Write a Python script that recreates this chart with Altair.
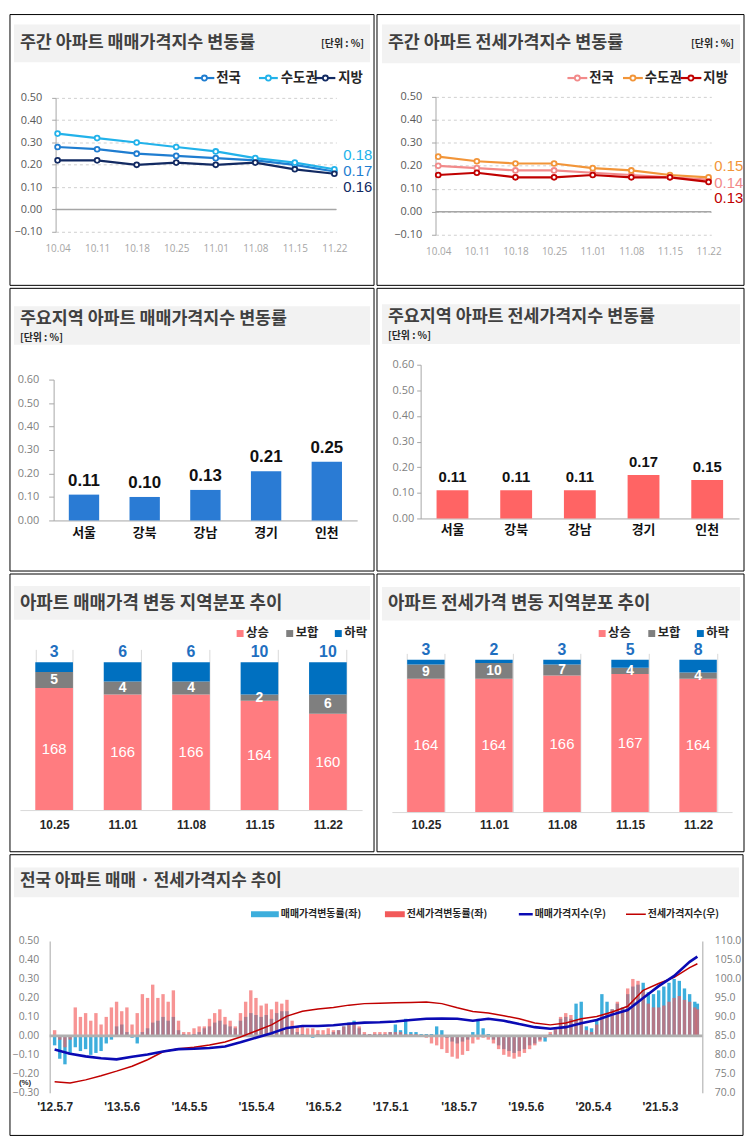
import altair as alt
import pandas as pd

KR = "Noto Sans CJK KR"
NUM = "Liberation Sans, Arial, sans-serif"
AXF = "Open Sans, Noto Sans, sans-serif"
LAT = "Liberation Sans, Arial, sans-serif"

# ---------------- data: weekly change rates ----------------
week_labels = ["10.04", "10.11", "10.18", "10.25", "11.01", "11.08", "11.15", "11.22"]
region_names = ["전국", "수도권", "지방"]
sale_nation = [0.28, 0.27, 0.25, 0.24, 0.23, 0.22, 0.20, 0.17]
sale_capital = [0.34, 0.32, 0.30, 0.28, 0.26, 0.23, 0.21, 0.18]
sale_local = [0.22, 0.22, 0.20, 0.21, 0.20, 0.21, 0.18, 0.16]
jeonse_nation = [0.20, 0.19, 0.18, 0.18, 0.17, 0.16, 0.15, 0.14]
jeonse_capital = [0.24, 0.22, 0.21, 0.21, 0.19, 0.18, 0.16, 0.15]
jeonse_local = [0.16, 0.17, 0.15, 0.15, 0.16, 0.15, 0.15, 0.13]

# ---------------- data: main areas ----------------
areas = ["서울", "강북", "강남", "경기", "인천"]
sale_area = [0.11, 0.10, 0.13, 0.21, 0.25]
jeonse_area = [0.11, 0.11, 0.11, 0.17, 0.15]

# ---------------- data: regional distribution ----------------
dist_weeks = ["10.25", "11.01", "11.08", "11.15", "11.22"]
dist_cats = ["상승", "보합", "하락"]
sale_up = [168, 166, 166, 164, 160]
sale_flat = [5, 4, 4, 2, 6]
sale_down = [3, 6, 6, 10, 10]
jeonse_up = [164, 164, 166, 167, 164]
jeonse_flat = [9, 10, 7, 4, 4]
jeonse_down = [3, 2, 3, 5, 8]

# ---------------- data: long-term trend (4-week samples) ----------------
sale_rate_12_14 = [-0.05, -0.12, -0.15, -0.10, -0.06, -0.08, -0.07, -0.10, -0.09, -0.08,
                   -0.04, -0.02, 0.05, 0.06, 0.02, -0.01, -0.04, 0.02, 0.04, 0.07,
                   0.08, 0.10, 0.08, 0.10, 0.03, 0.01, 0.00, 0.01, 0.02, 0.04]
sale_rate_14_17 = [0.05, 0.07, 0.08, 0.06, 0.05, 0.04, 0.08, 0.10, 0.12, 0.11,
                   0.10, 0.11, 0.09, 0.12, 0.13, 0.13, 0.05, 0.02, 0.01, 0.00,
                   -0.01, 0.01, 0.00, 0.01, 0.02, 0.03, 0.05, 0.07, 0.08, 0.04,
                   0.01, 0.01, 0.01]
sale_rate_17_19 = [0.01, 0.01, 0.02, 0.06, 0.03, 0.09, 0.02, 0.02, 0.01, 0.01,
                   0.01, 0.05, 0.03, -0.01, -0.03, -0.04, -0.03, -0.02, 0.02, 0.09,
                   0.04, 0.01, -0.02, -0.05, -0.07, -0.08, -0.09, -0.08, -0.07, -0.05,
                   -0.04, -0.02, -0.03, 0.01, 0.03]
sale_rate_19_21 = [0.09, 0.10, 0.09, 0.17, 0.18, 0.05, 0.04, 0.08, 0.22, 0.18,
                   0.14, 0.17, 0.15, 0.22, 0.26, 0.27, 0.28, 0.23, 0.22, 0.24,
                   0.26, 0.28, 0.30, 0.29, 0.25, 0.22, 0.18, 0.17]
jeonse_rate_12_14 = [0.03, -0.02, -0.06, -0.02, 0.15, 0.10, 0.12, 0.08, 0.12, 0.06,
                     0.10, 0.15, 0.18, 0.13, 0.15, 0.06, 0.12, 0.22, 0.20, 0.27,
                     0.20, 0.22, 0.18, 0.24, 0.08, 0.02, 0.02, 0.04, 0.05, 0.05]
jeonse_rate_14_17 = [0.09, 0.12, 0.14, 0.10, 0.08, 0.05, 0.12, 0.18, 0.24, 0.20,
                     0.16, 0.17, 0.14, 0.18, 0.17, 0.19, 0.08, 0.05, 0.05, 0.04,
                     0.04, 0.03, 0.03, 0.04, 0.03, 0.03, 0.05, 0.06, 0.07, 0.05,
                     0.02, 0.01, 0.02]
jeonse_rate_17_19 = [0.02, 0.02, 0.02, 0.02, 0.02, 0.01, 0.01, 0.01, 0.00, -0.01,
                     -0.04, -0.05, -0.07, -0.09, -0.11, -0.12, -0.10, -0.08, -0.04, -0.02,
                     -0.01, -0.02, -0.04, -0.07, -0.10, -0.11, -0.12, -0.11, -0.09, -0.07,
                     -0.05, -0.03, -0.01, 0.02, 0.04]
jeonse_rate_19_21 = [0.10, 0.12, 0.11, 0.08, 0.09, 0.03, 0.02, 0.06, 0.11, 0.12,
                     0.14, 0.18, 0.14, 0.25, 0.30, 0.29, 0.24, 0.17, 0.15, 0.15,
                     0.16, 0.18, 0.20, 0.21, 0.19, 0.18, 0.15, 0.14]
sale_index = [81.4, 80.3, 79.6, 79.1, 78.8, 79.5, 80.1, 80.9, 81.5, 81.6,
              81.8, 82.2, 83.3, 84.5, 85.7, 87.1, 87.6, 87.6, 87.8, 88.2,
              88.5, 88.6, 88.8, 89.2, 89.5, 89.6, 89.5, 89.0, 89.5, 89.0,
              88.1, 87.3, 86.9, 87.3, 88.3, 89.2, 90.6, 91.8, 95.0, 98.1,
              100.8, 104.5, 105.9]
jeonse_index = [72.9, 72.6, 73.4, 74.5, 75.7, 77.0, 78.7, 80.8, 81.6, 82.0,
                82.6, 83.4, 84.7, 86.3, 87.9, 90.2, 91.5, 92.1, 92.5, 93.1,
                93.5, 93.6, 93.7, 93.8, 93.9, 93.5, 92.4, 91.4, 91.0, 90.3,
                89.5, 88.4, 87.9, 88.4, 89.5, 90.1, 91.3, 92.8, 97.0, 98.8,
                100.4, 103.0, 104.0]
tick_dates = [(2012, 5, 7), (2013, 5, 6), (2014, 5, 5), (2015, 5, 4), (2016, 5, 2),
              (2017, 5, 1), (2018, 5, 7), (2019, 5, 6), (2020, 5, 4), (2021, 5, 3)]

ONE = pd.DataFrame({"k": [0]})


class Cell:
    def __init__(self, px, py, cw, ch):
        self.px, self.py, self.cw, self.ch = px, py, cw, ch

    def X(self, x):
        return alt.value(x - self.px)

    def Y(self, y):
        return alt.value(y - self.py)

    def rect(self, x1, y1, x2, y2, **kw):
        return alt.Chart(ONE).mark_rect(**kw).encode(
            x=self.X(x1), y=self.Y(y1), x2=self.X(x2), y2=self.Y(y2))

    def frame(self, band):
        return [self.rect(0, 0, self.cw, self.ch, fill="transparent", stroke="black", strokeWidth=1),
                self.rect(*band, fill="#F2F2F2")]

    def text(self, t, x, y, size, color="#262626", weight="normal", align="left", font=KR):
        return alt.Chart(ONE).mark_text(
            text=t, fontSize=size, color=color, fontWeight=weight, align=align,
            baseline="middle", font=font).encode(x=self.X(x), y=self.Y(y))

    def rule(self, x1, x2, y, color, sw):
        return alt.Chart(ONE).mark_rule(color=color, strokeWidth=sw).encode(
            x=self.X(x1), x2=self.X(x2), y=self.Y(y))

    def dot(self, x, y, color):
        return alt.Chart(ONE).mark_point(
            shape="circle", filled=True, fill="white", stroke=color, strokeWidth=1.8,
            size=26, opacity=1).encode(x=self.X(x), y=self.Y(y))

    def square(self, x, y, s, color):
        return self.rect(x - s / 2, y - s / 2, x + s / 2, y + s / 2, fill=color)


# ---------------- weekly line panels ----------------
def weekly_panel(cell, W, H, band, title, vals, colors, pad, legend, legend_y, label_x, label_dy, title_y):
    df = pd.DataFrame({
        "week": week_labels * 3,
        "region": [r for r in region_names for _ in week_labels],
        "v": vals[0] + vals[1] + vals[2],
    })
    sc = alt.Scale(domain=region_names, range=colors)
    xs = alt.X("week:N", sort=week_labels, scale=alt.Scale(type="point", padding=pad),
               axis=alt.Axis(title=None, labelAngle=0, domain=False, ticks=False, grid=False,
                             labelColor="#A6A6A6", labelFontSize=10, labelFont=AXF, labelPadding=12))
    ysc = alt.Scale(domain=[-0.1, 0.5], nice=False)
    yax = alt.Axis(title=None, values=[-0.1, 0.0, 0.1, 0.2, 0.3, 0.4, 0.5], format=".2f",
                   grid=True, gridDash=[3, 3], gridColor="#CFCFCF", domainColor="#A6A6A6",
                   tickColor="#A6A6A6", tickSize=4, labelColor="#595959", labelFontSize=11,
                   labelFont=AXF, labelPadding=10)
    ys = alt.Y("v:Q", scale=ysc, axis=yax)
    zero = alt.Chart(pd.DataFrame({"v": [0.0]})).mark_rule(color="#A6A6A6", strokeWidth=1.5).encode(y=ys)
    lines = alt.Chart(df).mark_line(strokeWidth=2.2).encode(
        x=xs, y=ys, color=alt.Color("region:N", scale=sc, legend=None))
    pts = alt.Chart(df).mark_point(filled=True, fill="white", size=24, strokeWidth=1.8, opacity=1).encode(
        x=xs, y=ys, stroke=alt.Stroke("region:N", scale=sc, legend=None))
    labels = []
    for i, r in enumerate(region_names):
        sub = df[(df.region == r) & (df.week == week_labels[-1])]
        labels.append(alt.Chart(sub).mark_text(
            align="left", baseline="middle", dy=label_dy[i], fontSize=15, font=NUM,
            color=colors[i]).encode(x=cell.X(label_x), y=ys, text=alt.Text("v:Q", format=".2f")))
    deco = cell.frame(band) + [
        cell.text(title, band[0] + 6, title_y, 17.5, color="#404040", weight="bold"),
        cell.text("[단위 : %]", band[2] - 6, title_y + 1, 10, color="#262626", weight="bold", align="right"),
    ]
    leg = []
    for i, (lx1, lx2, tx) in enumerate(legend):
        leg.append(cell.rule(lx1, lx2, legend_y, colors[i], 2.2))
        leg.append(cell.dot((lx1 + lx2) / 2, legend_y, colors[i]))
        leg.append(cell.text(region_names[i], tx, legend_y, 13.5, color="#262626", weight="bold"))
    return alt.layer(*deco, *leg, zero, lines, pts, *labels).properties(width=W, height=H)


A = weekly_panel(Cell(46, 84, 367, 273), 283, 135, (4, 10, 363, 48),
                 "주간 아파트 매매가격지수 변동률", [sale_nation, sale_capital, sale_local],
                 ["#1F7DD0", "#22B2EA", "#122A62"], 0.05,
                 [(186, 206, 208), (251, 270, 273), (308, 328, 331)], 64, 336, [0, -14, 13], 29)
B = weekly_panel(Cell(59, 83, 370, 273), 278, 139, (5, 10, 366, 49),
                 "주간 아파트 전세가격지수 변동률", [jeonse_nation, jeonse_capital, jeonse_local],
                 ["#F28A8A", "#F29539", "#C00000"], 0.07,
                 [(192, 212, 214), (248, 268, 270), (306, 327, 329)], 64, 340, [3, -11, 16], 29)


# ---------------- main-area bar panels ----------------
def area_panel(cell, W, H, band, title, vals, color, title_y, unit_y, lbl_size, tick, lpad, cpad):
    df = pd.DataFrame({"area": areas, "v": vals})
    xs = alt.X("area:N", sort=areas, scale=alt.Scale(paddingInner=0.5, paddingOuter=0.25),
               axis=alt.Axis(title=None, labelAngle=0, ticks=False, domainColor="#A6A6A6",
                             labelFont=KR, labelFontSize=13, labelFontWeight="bold",
                             labelColor="#111111", labelPadding=cpad))
    ys = alt.Y("v:Q", scale=alt.Scale(domain=[0, 0.6], nice=False),
               axis=alt.Axis(title=None, values=[0.0, 0.1, 0.2, 0.3, 0.4, 0.5, 0.6], format=".2f",
                             grid=False, domainColor="#A6A6A6", tickColor="#A6A6A6", tickSize=tick,
                             labelColor="#7F7F7F", labelFontSize=11, labelFont=AXF, labelPadding=lpad))
    bars = alt.Chart(df).mark_bar(color=color).encode(x=xs, y=ys)
    txt = alt.Chart(df).mark_text(baseline="bottom", dy=-5, fontSize=lbl_size, fontWeight="bold",
                                  font=NUM, color="#111111").encode(
        x=xs, y=ys, text=alt.Text("v:Q", format=".2f"))
    deco = cell.frame(band) + [
        cell.text(title, band[0] + 6, title_y, 17.5, color="#404040", weight="bold"),
        cell.text("[단위 : %]", band[0] + 6, unit_y, 10, color="#262626", weight="bold"),
    ]
    return alt.layer(*deco, bars, txt).properties(width=W, height=H)


C = area_panel(Cell(44, 92, 367, 285), 306, 142, (4, 18, 363, 57),
               "주요지역 아파트 매매가격지수 변동률", sale_area, "#2A7BD4", 31, 50, 17, 5, 10, 6)
D = area_panel(Cell(44, 77, 370, 285), 321, 155, (5, 16, 366, 56),
               "주요지역 아파트 전세가격지수 변동률", jeonse_area, "#FF6464", 29, 48, 15, 4, 3, 5)


# ---------------- distribution panels ----------------
def dist_panel(cell, W, H, band, title, up, flat, down, ymin, legend, lpad):
    df = pd.DataFrame({
        "week": dist_weeks * 3,
        "cat": [c for c in dist_cats for _ in dist_weeks],
        "n": up + flat + down,
        "ord": [0] * 5 + [1] * 5 + [2] * 5,
    })
    colors = ["#FF7C80", "#7F7F7F", "#0070C0"]
    base = alt.Chart(df).transform_stack(
        stack="n", groupby=["week"], sort=[alt.SortField("ord", order="ascending")], as_=["y0", "y1"]
    ).transform_calculate(mid=f"(max(datum.y0, {ymin}) + datum.y1) / 2")
    xs = alt.X("week:N", sort=dist_weeks, scale=alt.Scale(paddingInner=0.45, paddingOuter=0.225),
               axis=alt.Axis(title=None, labelAngle=0, tickBand="extent", grid=True, gridColor="#D9D9D9",
                             ticks=False, domainColor="#D9D9D9", labelFont=LAT, labelFontWeight="bold",
                             labelFontSize=12, labelColor="#262626", labelPadding=lpad))
    ysc = alt.Scale(domain=[ymin, 180], nice=False, zero=False)
    bars = base.mark_bar(clip=True).encode(
        x=xs, y=alt.Y("y0:Q", scale=ysc, axis=None), y2="y1:Q",
        color=alt.Color("cat:N", scale=alt.Scale(domain=dist_cats, range=colors), legend=None))
    up_t = base.transform_filter(alt.datum.cat == "상승").mark_text(
        color="white", fontSize=15, font=NUM).encode(
        x=xs, y=alt.Y("mid:Q", scale=ysc, axis=None), text="n:Q")
    fl_t = base.transform_filter(alt.datum.cat == "보합").mark_text(
        color="white", fontSize=14, font=NUM, fontWeight="bold").encode(
        x=xs, y=alt.Y("mid:Q", scale=ysc, axis=None), text="n:Q")
    dn_t = base.transform_filter(alt.datum.cat == "하락").mark_text(
        color="#1F6FC0", fontSize=16, font=NUM, fontWeight="bold", baseline="bottom", dy=-2).encode(
        x=xs, y=alt.Y("y1:Q", scale=ysc, axis=None), text="n:Q")
    deco = cell.frame(band) + [cell.text(title, band[0] + 6, 30, 18, color="#404040", weight="bold")]
    for i, (sx, tx) in enumerate(legend):
        deco.append(cell.square(sx, 60, 7, colors[i]))
        deco.append(cell.text(dist_cats[i], tx, 60, 12.5, color="#262626", weight="bold"))
    return alt.layer(*deco, bars, up_t, fl_t, dn_t).properties(width=W, height=H)


E = dist_panel(Cell(10, 76, 367, 280), 345, 162, (4, 12, 363, 46), "아파트 매매가격 변동 지역분포 추이",
               sale_up, sale_flat, sale_down, 130, [(232, 238), (282, 288), (331, 337)], 10)
F = dist_panel(Cell(15, 80, 370, 280), 343, 160, (5, 13, 366, 47), "아파트 전세가격 변동 지역분포 추이",
               jeonse_up, jeonse_flat, jeonse_down, 80, [(227, 233), (277, 283), (326, 332)], 8)

# ---------------- long-term trend panel ----------------
gc = Cell(40, 87, 739, 283)
GW, GH = 658, 153
bar_dates = list(pd.date_range("2012-05-07", periods=125, freq="28D")) + [pd.Timestamp("2021-11-22")]
idx_dates = list(pd.date_range("2012-05-07", periods=42, freq="84D")) + [pd.Timestamp("2021-11-22")]
dfS = pd.DataFrame({"date": bar_dates, "v": sale_rate_12_14 + sale_rate_14_17 + sale_rate_17_19 + sale_rate_19_21})
dfJ = pd.DataFrame({"date": bar_dates, "v": jeonse_rate_12_14 + jeonse_rate_14_17 + jeonse_rate_17_19 + jeonse_rate_19_21})
dfSI = pd.DataFrame({"date": idx_dates, "v": sale_index})
dfJI = pd.DataFrame({"date": idx_dates, "v": jeonse_index})

xg = alt.X("date:T",
           scale=alt.Scale(domain=[alt.DateTime(year=2012, month=5, date=7),
                                   alt.DateTime(year=2021, month=11, date=22)]),
           axis=alt.Axis(title=None, values=[alt.DateTime(year=y, month=m, date=d) for y, m, d in tick_dates],
                         format="'%y.%-m.%-d", grid=False, domain=False, ticks=False, labelAngle=0,
                         labelFont=LAT, labelFontWeight="bold", labelFontSize=12,
                         labelColor="#262626", labelPadding=9))
yl_sc = alt.Scale(domain=[-0.3, 0.5], nice=False)
yl_ax = alt.Axis(title=None, values=[-0.3, -0.2, -0.1, 0.0, 0.1, 0.2, 0.3, 0.4, 0.5], format=".2f",
                 grid=False, ticks=False, domainColor="#A6A6A6", labelColor="#7F7F7F",
                 labelFontSize=10.5, labelFont=AXF, labelPadding=11)
yr_sc = alt.Scale(domain=[70, 110], nice=False, zero=False)
yr_ax = alt.Axis(title=None, orient="right", values=[70, 75, 80, 85, 90, 95, 100, 105, 110], format=".1f",
                 grid=False, ticks=False, domainColor="#A6A6A6", labelColor="#7F7F7F",
                 labelFontSize=10.5, labelFont=AXF, labelPadding=12)
yl = alt.Y("v:Q", scale=yl_sc, axis=yl_ax)
yr = alt.Y("v:Q", scale=yr_sc, axis=yr_ax)

sbars = alt.Chart(dfS).mark_bar(size=3.4, color="#3DAEDC").encode(x=xg, y=yl)
jbars = alt.Chart(dfJ).mark_bar(size=3.4, color="#F25A5A", opacity=0.65).encode(x=xg, y=yl)
zband = alt.Chart(pd.DataFrame({"v": [0.0]})).mark_rule(color="#B0B0B0", strokeWidth=3).encode(y=yl)
left_part = alt.layer(sbars, jbars, zband)
sline = alt.Chart(dfSI).mark_line(color="#0A0AB4", strokeWidth=2.6).encode(x=xg, y=yr)
jline = alt.Chart(dfJI).mark_line(color="#C00000", strokeWidth=1.5).encode(x=xg, y=yr)
right_part = alt.layer(jline, sline)

gdeco = gc.frame((4, 13, 735, 43)) + [
    gc.text("전국 아파트 매매 · 전세가격지수 추이", 10, 27, 17, color="#404040", weight="bold"),
    gc.rect(243, 57, 271, 63, fill="#3DAEDC"),
    gc.text("매매가격변동률(좌)", 273, 60, 10, color="#262626", weight="bold"),
    gc.rect(378, 57, 398, 63, fill="#F25A5A"),
    gc.text("전세가격변동률(좌)", 400, 60, 10, color="#262626", weight="bold"),
    gc.rule(513, 527, 60, "#0A0AB4", 2.5),
    gc.text("매매가격지수(우)", 529, 60, 10, color="#262626", weight="bold"),
    gc.rule(621, 641, 60, "#C00000", 1.5),
    gc.text("전세가격지수(우)", 643, 60, 10, color="#262626", weight="bold"),
    gc.text("(%)", 9, 230.5, 8, color="#262626", weight="bold", font=LAT),
]
G = alt.layer(*gdeco, left_part, right_part).resolve_scale(y="independent").properties(width=GW, height=GH)


# ---------------- layout helpers ----------------
def spacer():
    return alt.Chart(ONE).mark_rect(fill="white").encode(
        x=alt.value(0), x2=alt.value(1), y=alt.value(0), y2=alt.value(1)).properties(width=1, height=1)


def res(c):
    return c.resolve_scale(color="independent", stroke="independent")


def wrap(panel):
    return res(alt.vconcat(spacer(), res(alt.hconcat(spacer(), panel, spacing=0)), spacing=0))


chart = res(alt.vconcat(
    res(alt.hconcat(wrap(A), wrap(B), spacing=0)),
    res(alt.hconcat(wrap(C), wrap(D), spacing=0)),
    res(alt.hconcat(wrap(E), wrap(F), spacing=0)),
    wrap(G),
    spacing=0,
)).properties(padding=0, background="white").configure_view(strokeWidth=0)

chart.save("out.html", embed_options={"renderer": "svg", "actions": False})
